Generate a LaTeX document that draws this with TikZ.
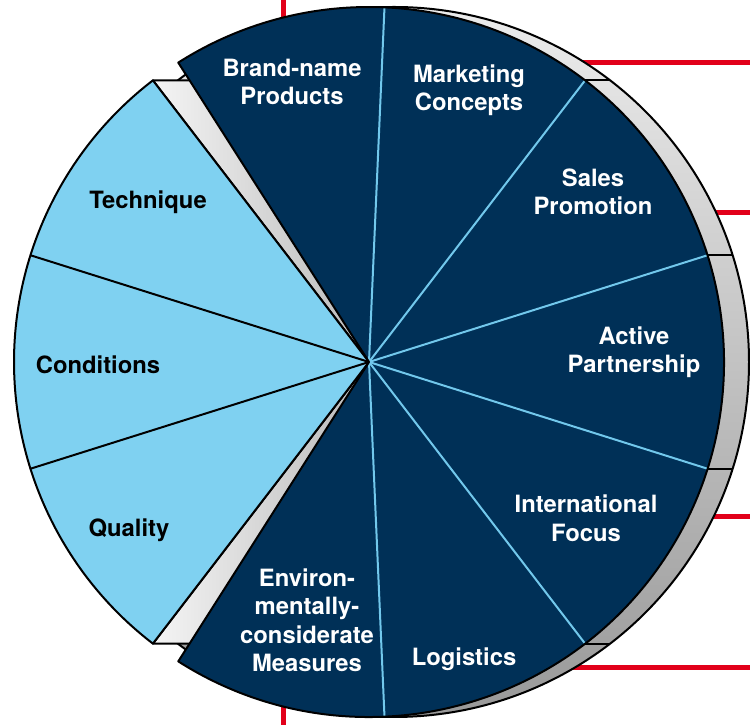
\documentclass[tikz,border=0pt]{standalone}
\usepackage{fontspec}
\setmainfont{TeX Gyre Heros}
\usetikzlibrary{calc}
\definecolor{navy}{HTML}{003057}
\definecolor{lblue}{HTML}{7FD1F1}
\definecolor{spokec}{HTML}{72C8EC}
\definecolor{redl}{HTML}{E2001A}
\begin{document}
\begin{tikzpicture}[x=1pt,y=1pt,
  lbl/.style={font=\fontsize{23.8}{28.5}\selectfont\bfseries, align=center, inner sep=0pt},
  wlbl/.style={lbl, text=white},
  blbl/.style={lbl, text=black},
  redline/.style={draw=redl, line width=5pt},
  outline/.style={draw=black, line width=2pt, line join=round},
  spokeline/.style={draw=spokec, line width=2pt}]
\useasboundingbox (0,0) rectangle (750,725);
\coordinate (C) at (369,363);
\coordinate (S) at (394,363);
\def\R{355pt}
% red lines (behind the pie)
\coordinate (rt1) at (283,725); \coordinate (rt2) at (283,680);
\coordinate (rb1) at (283,0);   \coordinate (rb2) at (283,45);
\coordinate (r1a) at (750,662); \coordinate (r1b) at (560,662);
\coordinate (r2a) at (750,512); \coordinate (r2b) at (700,512);
\coordinate (r3a) at (750,208); \coordinate (r3b) at (700,208);
\coordinate (r4a) at (750,57);  \coordinate (r4b) at (560,57);
\draw[redline] (rt1) -- (rt2);
\draw[redline] (rb1) -- (rb2);
\draw[redline] (r1a) -- (r1b);
\draw[redline] (r2a) -- (r2b);
\draw[redline] (r3a) -- (r3b);
\draw[redline] (r4a) -- (r4b);
% extruded rim
\shade[top color=gray!15, bottom color=gray!80] (S) circle[radius=\R];
\draw[outline] (S) circle[radius=\R];
\foreach \a in {52.5,17.5,-17.5,-52.5}
  \draw[outline] ($(C)+(\a:\R)$) -- ++(25,0);
% side faces in the gaps
\shadedraw[left color=gray!8, right color=gray!55, outline]
  (C) -- ($(C)+(127.5:\R)$) -- ++(50,0) -- cycle;
\shadedraw[left color=gray!8, right color=gray!55, outline]
  (C) -- ($(C)+(232.5:\R)$) -- ++(50,0) -- cycle;
% light blue sector
\filldraw[fill=lblue, outline] (C) -- ($(C)+(127.5:\R)$)
  arc[start angle=127.5, end angle=232.5, radius=\R] -- cycle;
\foreach \a in {162.5,197.5}
  \draw[outline] (C) -- ($(C)+(\a:\R)$);
% dark sector
\fill[navy] (C) -- ($(C)+(-122.5:\R)$)
  arc[start angle=-122.5, end angle=122.5, radius=\R] -- cycle;
\foreach \a in {-87.5,-52.5,-17.5,17.5,52.5,87.5}
  \draw[spokeline] (C) -- ($(C)+(\a:\R)$);
\draw[outline] (C) -- ($(C)+(-122.5:\R)$)
  arc[start angle=-122.5, end angle=122.5, radius=\R] -- cycle;
% labels
\node[wlbl] (brand) at (292,643) {Brand-name\\Products};
\node[wlbl] (mkt) at (469,635) {Marketing\\Concepts};
\node[wlbl] (sales) at (593,533) {Sales\\Promotion};
\node[wlbl] (active) at (634,373) {Active\\Partnership};
\node[wlbl] (intl) at (586,207) {International\\Focus};
\node[wlbl] (logi) at (464,66) {Logistics};
\node[wlbl] (env) at (307,105) {Environ-\\mentally-\\considerate\\Measures};
\node[blbl] (tech) at (148,523) {Technique};
\node[blbl] (cond) at (98,360) {Conditions};
\node[blbl] (qual) at (129,195) {Quality};
\end{tikzpicture}
\end{document}
